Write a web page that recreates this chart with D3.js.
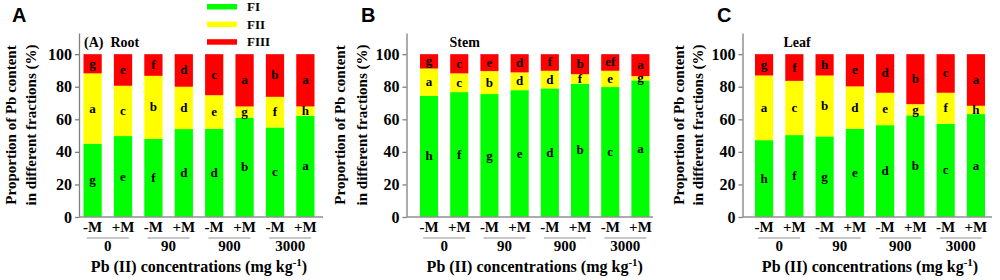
<!DOCTYPE html>
<html>
<head>
<meta charset="utf-8">
<script src="https://cdn.jsdelivr.net/npm/d3@7"></script>
<style>
  body { margin: 0; background: #fff; }
  svg text { font-family: "Liberation Serif", "Times New Roman", serif; font-weight: bold; fill: #000; }
</style>
</head>
<body>
<div id="chart"></div>
<script>
// categories
const concGroups = ["0", "90", "900", "3000"];
const treatments = ["-M", "+M"];
const fractions = ["FI", "FII", "FIII"];
const fractionColors = ["#00ff00", "#ffff00", "#ff0000"];
const yTicks = [0, 20, 40, 60, 80, 100];

// Root (%)
const rootFI   = [45.0, 49.7, 48.0, 54.0, 54.2, 61.0, 55.0, 62.2];
const rootFII  = [43.2, 30.9, 38.7, 26.0, 20.6, 6.9, 18.8, 5.7];
const rootFIII = [11.8, 19.4, 13.3, 20.0, 25.2, 32.1, 26.2, 32.1];
const rootLettersFI   = ["g", "e", "f", "d", "d", "b", "c", "a"];
const rootLettersFII  = ["a", "c", "b", "d", "e", "g", "f", "h"];
const rootLettersFIII = ["g", "e", "f", "d", "c", "a", "b", "a"];

// Stem (%)
const stemFI   = [74.4, 76.7, 75.5, 77.9, 79.0, 81.8, 79.8, 83.9];
const stemFII  = [16.8, 11.5, 14.1, 10.9, 10.8, 5.9, 10.0, 2.6];
const stemFIII = [8.8, 11.8, 10.4, 11.2, 10.2, 12.3, 10.2, 13.5];
const stemLettersFI   = ["h", "f", "g", "e", "d", "b", "c", "a"];
const stemLettersFII  = ["a", "c", "b", "d", "d", "f", "e", "g"];
const stemLettersFIII = ["g", "c", "e", "d", "f", "b", "ef", "a"];

// Leaf (%)
const leafFI   = [47.2, 50.3, 49.5, 54.2, 56.4, 62.4, 57.2, 63.2];
const leafFII  = [39.7, 33.3, 37.4, 26.0, 19.9, 6.9, 19.1, 5.1];
const leafFIII = [13.1, 16.4, 13.1, 19.8, 23.7, 30.7, 23.7, 31.7];
const leafLettersFI   = ["h", "f", "g", "e", "d", "b", "c", "a"];
const leafLettersFII  = ["a", "c", "b", "d", "e", "g", "f", "h"];
const leafLettersFIII = ["g", "f", "h", "e", "d", "b", "c", "a"];

const serif = "'Liberation Serif', 'Times New Roman', serif";

const svg = d3.select("#chart").append("svg")
    .attr("width", 1000)
    .attr("height", 280);

class PanelVis {

    constructor(_svg, _cfg, _series, _letters) {
        this.svg = _svg;
        this.cfg = _cfg;
        this.series = _series;
        this.letters = _letters;
        this.initVis();
    }

    initVis() {
        let vis = this;
        let c = vis.cfg;

        vis.g = vis.svg.append("g");

        // one key per bar: group + treatment
        vis.keys = [];
        concGroups.forEach(g => treatments.forEach(t => vis.keys.push(g + t)));

        vis.x = d3.scaleBand()
            .domain(vis.keys)
            .range([c.barStart, c.barEnd])
            .paddingInner(0.4);

        vis.y = d3.scaleLinear()
            .domain([0, 113])
            .range([217, 33]);

        vis.wrangleData();
    }

    wrangleData() {
        let vis = this;
        vis.rows = vis.keys.map((k, i) => {
            let row = {key: k, i: i};
            fractions.forEach((f, j) => row[f] = vis.series[j][i]);
            return row;
        });
        vis.stacked = d3.stack().keys(fractions)(vis.rows);
        vis.updateVis();
    }

    updateVis() {
        let vis = this;
        let c = vis.cfg;

        // bars
        vis.g.selectAll("g.layer")
            .data(vis.stacked)
            .join("g")
            .attr("class", "layer")
            .attr("fill", (d, j) => fractionColors[j])
            .selectAll("rect")
            .data(d => d)
            .join("rect")
            .attr("x", d => vis.x(d.data.key))
            .attr("width", vis.x.bandwidth())
            .attr("y", d => vis.y(d[1]))
            .attr("height", d => vis.y(d[0]) - vis.y(d[1]));

        // significance letters
        vis.stacked.forEach((layer, j) => {
            vis.g.append("g").selectAll("text")
                .data(layer)
                .join("text")
                .attr("x", d => vis.x(d.data.key) + vis.x.bandwidth() / 2)
                .attr("y", d => vis.y((d[0] + d[1]) / 2) + 4)
                .attr("text-anchor", "middle")
                .style("font-size", "13px")
                .text((d, i) => vis.letters[j][i]);
        });

        // y axis
        vis.g.append("g")
            .attr("transform", "translate(" + c.axisX + ",0)")
            .call(d3.axisLeft(vis.y).tickValues(yTicks).tickSize(4).tickSizeOuter(0).tickPadding(3))
            .call(a => a.attr("font-family", null))
            .call(a => a.selectAll("path, line").attr("stroke", "#808080").attr("stroke-width", 1.3))
            .call(a => a.selectAll("text")
                .style("font-family", serif)
                .style("font-weight", "bold")
                .style("font-size", "16px"));

        // x axis line
        vis.g.append("line")
            .attr("x1", c.axisX).attr("x2", c.axisEnd)
            .attr("y1", vis.y(0)).attr("y2", vis.y(0))
            .attr("stroke", "#909090")
            .attr("stroke-width", 1.5);

        // treatment tick labels
        vis.g.append("g").selectAll("text")
            .data(vis.keys)
            .join("text")
            .attr("x", k => vis.x(k) + vis.x.bandwidth() / 2)
            .attr("y", 232)
            .attr("text-anchor", "middle")
            .style("font-size", "15px")
            .text((k, i) => treatments[i % 2]);

        // group underline + concentration labels
        concGroups.forEach(g => {
            let cx = (vis.x(g + treatments[0]) + vis.x(g + treatments[1]) + vis.x.bandwidth()) / 2;
            vis.g.append("line")
                .attr("x1", cx - 21).attr("x2", cx + 21)
                .attr("y1", 238).attr("y2", 238)
                .attr("stroke", "#909090")
                .attr("stroke-width", 1.2);
            vis.g.append("text")
                .attr("x", cx).attr("y", 251)
                .attr("text-anchor", "middle")
                .style("font-size", "15px")
                .text(g);
        });

        // x title
        let xt = vis.g.append("text")
            .attr("x", (c.barStart + c.barEnd) / 2)
            .attr("y", 272)
            .attr("text-anchor", "middle")
            .style("font-size", "16px");
        xt.append("tspan").text("Pb (II) concentrations (mg kg");
        xt.append("tspan").attr("dy", -6).style("font-size", "11px").text("-1");
        xt.append("tspan").attr("dy", 6).text(")");

        // y title, two lines
        ["Proportion of Pb content", "in different fractions (%)"].forEach((t, i) => {
            vis.g.append("text")
                .attr("transform", "translate(" + (c.axisX + c.yTitleOff[i]) + ",125) rotate(-90)")
                .attr("text-anchor", "middle")
                .style("font-size", "15px")
                .text(t);
        });

        // organ label
        vis.g.append("text")
            .attr("x", c.axisX + c.organOff)
            .attr("y", 47)
            .style("font-size", "14px")
            .attr("xml:space", "preserve")
            .text(c.organ);

        // panel letter
        vis.g.append("text")
            .attr("x", c.letterX)
            .attr("y", 22)
            .style("font-family", "Liberation Sans, Arial, sans-serif")
            .style("font-size", "20px")
            .text(c.letter);
    }
}

new PanelVis(svg,
    {letter: "A", letterX: 12, axisX: 79, axisEnd: 323, barStart: 83.5, barEnd: 314.5,
     organ: "(A)  Root", organOff: 5, yTitleOff: [-63, -43]},
    [rootFI, rootFII, rootFIII], [rootLettersFI, rootLettersFII, rootLettersFIII]);

new PanelVis(svg,
    {letter: "B", letterX: 361, axisX: 406.5, axisEnd: 653, barStart: 420, barEnd: 649.5,
     organ: "Stem", organOff: 43, yTitleOff: [-62, -40]},
    [stemFI, stemFII, stemFIII], [stemLettersFI, stemLettersFII, stemLettersFIII]);

new PanelVis(svg,
    {letter: "C", letterX: 717, axisX: 742.5, axisEnd: 992, barStart: 755, barEnd: 985,
     organ: "Leaf", organOff: 41, yTitleOff: [-59, -40]},
    [leafFI, leafFII, leafFIII], [leafLettersFI, leafLettersFII, leafLettersFIII]);

// legend
const legend = svg.append("g").selectAll("g")
    .data(fractions)
    .join("g")
    .attr("transform", (d, i) => "translate(207," + (4 + i * 17.6) + ")");

legend.append("rect")
    .attr("width", 30)
    .attr("height", 5.5)
    .attr("fill", (d, i) => fractionColors[i]);

legend.append("text")
    .attr("x", 40)
    .attr("y", 7)
    .style("font-size", "13px")
    .text(d => d);
</script>
</body>
</html>
